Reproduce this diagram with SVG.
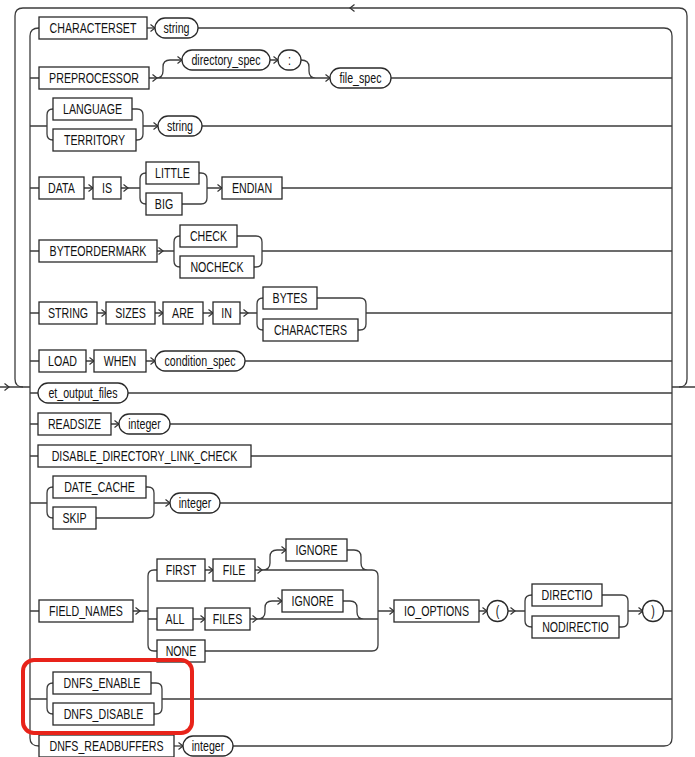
<svg xmlns="http://www.w3.org/2000/svg" xmlns:xlink="http://www.w3.org/1999/xlink" width="695" height="757" viewBox="0 0 695 757">
<style>
.b{fill:#fff;stroke:#2a2a2a;stroke-width:1.3}
.l{fill:none;stroke:#3c3c3c;stroke-width:1.3}
text{font-family:"Liberation Sans",Arial,sans-serif;font-size:14px;fill:#111;text-anchor:middle}
.hl{fill:none;stroke:#e8231a;stroke-width:4}
</style>
<defs>
<path id="ar" d="M-4.5,-3.5 L0,0 L-4.5,3.5" fill="none" stroke="#333" stroke-width="1.2"/>
</defs>
<rect width="695" height="757" fill="#fff"/>
<g id="connectors">
<path class="l" d="M679,387 Q687,387 687,379 V16 Q687,8 679,8 H23 Q15,8 15,16 V379 Q15,387 23,387"/>
<use href="#ar" transform="translate(350,8) rotate(180)"/>
<path class="l" d="M0,387 H30 M672,387 H695"/>
<use href="#ar" x="9" y="387"/>
<path class="l" d="M39,28 Q30,28 30,36 V738 Q30,746 39,746"/>
<path class="l" d="M198,28 H664 Q672,28 672,36 V738 Q672,746 664,746 H233"/>
<path class="l" d="M147,28 H155"/><use href="#ar" x="155" y="28"/>
<path class="l" d="M30,78 H39 M149,78 H330 M391,78 H672 M156,78 Q163,78 163,71 V67 Q163,60 170,60 H182 M270,60 H278 M301,60 Q309,60 309,67 V71 Q309,78 316,78"/>
<use href="#ar" x="157" y="78"/><use href="#ar" x="182" y="60"/><use href="#ar" x="278" y="60"/><use href="#ar" x="330" y="78"/>
<path class="l" d="M30,126 H47 M53,109 Q47,109 47,115 V134 Q47,140 53,140 M132,109 H137 Q143,109 143,115 V134 Q143,140 137,140 H136 M143,126 H158 M202,126 H672"/>
<use href="#ar" x="158" y="126"/>
<path class="l" d="M30,188 H39 M84,188 H93 M121,188 H140 M146,173 Q140,173 140,179 V198 Q140,204 146,204 M199,173 H201 Q207,173 207,179 V198 Q207,204 201,204 H182 M207,188 H222 M282,188 H672"/>
<use href="#ar" x="93" y="188"/><use href="#ar" x="128" y="188"/><use href="#ar" x="222" y="188"/>
<path class="l" d="M30,251 H39 M157,251 H174 M180,236 Q174,236 174,242 V261 Q174,267 180,267 M237,236 H256 Q262,236 262,242 V261 Q262,267 256,267 H254 M262,251 H672"/>
<use href="#ar" x="163" y="251"/>
<path class="l" d="M30,313 H39 M97,313 H106 M155,313 H163 M203,313 H213 M240,313 H257 M263,298 Q257,298 257,304 V324 Q257,330 263,330 M317,298 H360 Q366,298 366,304 V324 Q366,330 360,330 H358 M366,313 H672"/>
<use href="#ar" x="106" y="313"/><use href="#ar" x="163" y="313"/><use href="#ar" x="213" y="313"/><use href="#ar" x="248" y="313"/>
<path class="l" d="M30,361 H39 M86,361 H94 M146,361 H155 M245,361 H672"/>
<use href="#ar" x="94" y="361"/><use href="#ar" x="155" y="361"/>
<path class="l" d="M30,393 H38 M128,393 H672"/>
<path class="l" d="M30,424 H38 M111,424 H119 M170,424 H672"/>
<use href="#ar" x="119" y="424"/>
<path class="l" d="M30,456 H38 M251,456 H672"/>
<path class="l" d="M30,503 H47 M53,487 Q47,487 47,493 V512 Q47,518 53,518 M146,487 H148 Q154,487 154,493 V512 Q154,518 148,518 H96 M154,503 H170 M220,503 H672"/>
<use href="#ar" x="170" y="503"/>
<path class="l" d="M30,611 H39 M133,611 H148 M157,570 H154 Q148,570 148,576 V645 Q148,651 154,651 H157 M148,619 H157 M205,570 H213 M255,570 H372 Q378,570 378,576 V645 Q378,651 372,651 H205 M262,570 Q270,570 270,563 V557 Q270,550 277,550 H286 M347,550 H354 Q361,550 361,557 V563 Q361,570 368,570 M193,619 H205 M250,619 H378 M257,619 Q265,619 265,612 V608 Q265,601 272,601 H282 M343,601 H350 Q357,601 357,608 V612 Q357,619 364,619 M378,611 H394 M479,611 H487 M508,611 H525 M532,595 Q525,595 525,601 V621 Q525,627 532,627 M602,595 H622 Q628,595 628,601 V621 Q628,627 622,627 H619 M628,611 H643 M663,611 H672"/>
<use href="#ar" x="140" y="611"/><use href="#ar" x="213" y="570"/><use href="#ar" x="262" y="570"/><use href="#ar" x="286" y="550"/><use href="#ar" x="205" y="619"/><use href="#ar" x="257" y="619"/><use href="#ar" x="282" y="601"/><use href="#ar" x="394" y="611"/><use href="#ar" x="487" y="611"/><use href="#ar" x="515" y="611"/><use href="#ar" x="643" y="611"/>
<path class="l" d="M30,699 H47 M53,683 Q47,683 47,689 V708 Q47,714 53,714 M151,683 H156 Q162,683 162,689 V708 Q162,714 156,714 H154 M162,699 H672"/>
<path class="l" d="M174,746 H183"/><use href="#ar" x="183" y="746"/>
</g>
<g id="n-characterset"><rect class="b" x="39" y="17" width="108" height="22"/><text transform="translate(93,33) scale(.76,1)">CHARACTERSET</text></g>
<g id="n-string1"><rect class="b" x="155" y="18" width="43" height="20" rx="10"/><text transform="translate(176.5,33) scale(.76,1)">string</text></g>
<g id="n-preprocessor"><rect class="b" x="39" y="67" width="110" height="22"/><text transform="translate(94,83) scale(.76,1)">PREPROCESSOR</text></g>
<g id="n-directory_spec"><rect class="b" x="182" y="50" width="88" height="20" rx="10"/><text transform="translate(226,65) scale(.76,1)">directory_spec</text></g>
<g id="n-colon"><rect class="b" x="278" y="50" width="23" height="20" rx="10"/><text transform="translate(289.5,65) scale(.76,1)">:</text></g>
<g id="n-file_spec"><rect class="b" x="330" y="68" width="61" height="20" rx="10"/><text transform="translate(360.5,83) scale(.76,1)">file_spec</text></g>
<g id="n-language"><rect class="b" x="53" y="98" width="79" height="22"/><text transform="translate(92.5,114) scale(.76,1)">LANGUAGE</text></g>
<g id="n-territory"><rect class="b" x="53" y="129" width="83" height="22"/><text transform="translate(94.5,145) scale(.76,1)">TERRITORY</text></g>
<g id="n-string2"><rect class="b" x="158" y="116" width="44" height="20" rx="10"/><text transform="translate(180,131) scale(.76,1)">string</text></g>
<g id="n-data"><rect class="b" x="39" y="177" width="45" height="22"/><text transform="translate(61.5,193) scale(.76,1)">DATA</text></g>
<g id="n-is"><rect class="b" x="93" y="177" width="28" height="22"/><text transform="translate(107,193) scale(.76,1)">IS</text></g>
<g id="n-little"><rect class="b" x="146" y="162" width="53" height="22"/><text transform="translate(172.5,178) scale(.76,1)">LITTLE</text></g>
<g id="n-big"><rect class="b" x="146" y="193" width="36" height="22"/><text transform="translate(164,209) scale(.76,1)">BIG</text></g>
<g id="n-endian"><rect class="b" x="222" y="177" width="60" height="22"/><text transform="translate(252,193) scale(.76,1)">ENDIAN</text></g>
<g id="n-byteordermark"><rect class="b" x="39" y="240" width="118" height="22"/><text transform="translate(98,256) scale(.76,1)">BYTEORDERMARK</text></g>
<g id="n-check"><rect class="b" x="180" y="225" width="57" height="22"/><text transform="translate(208.5,241) scale(.76,1)">CHECK</text></g>
<g id="n-nocheck"><rect class="b" x="180" y="256" width="74" height="22"/><text transform="translate(217,272) scale(.76,1)">NOCHECK</text></g>
<g id="n-string3"><rect class="b" x="39" y="302" width="58" height="22"/><text transform="translate(68,318) scale(.76,1)">STRING</text></g>
<g id="n-sizes"><rect class="b" x="106" y="302" width="49" height="22"/><text transform="translate(130.5,318) scale(.76,1)">SIZES</text></g>
<g id="n-are"><rect class="b" x="163" y="302" width="40" height="22"/><text transform="translate(183,318) scale(.76,1)">ARE</text></g>
<g id="n-in"><rect class="b" x="213" y="302" width="27" height="22"/><text transform="translate(226.5,318) scale(.76,1)">IN</text></g>
<g id="n-bytes"><rect class="b" x="263" y="287" width="54" height="22"/><text transform="translate(290,303) scale(.76,1)">BYTES</text></g>
<g id="n-characters"><rect class="b" x="263" y="319" width="95" height="22"/><text transform="translate(310.5,335) scale(.76,1)">CHARACTERS</text></g>
<g id="n-load"><rect class="b" x="39" y="350" width="47" height="22"/><text transform="translate(62.5,366) scale(.76,1)">LOAD</text></g>
<g id="n-when"><rect class="b" x="94" y="350" width="52" height="22"/><text transform="translate(120,366) scale(.76,1)">WHEN</text></g>
<g id="n-condition_spec"><rect class="b" x="155" y="351" width="90" height="20" rx="10"/><text transform="translate(200,366) scale(.76,1)">condition_spec</text></g>
<g id="n-et_output_files"><rect class="b" x="38" y="383" width="90" height="20" rx="10"/><text transform="translate(83,398) scale(.76,1)">et_output_files</text></g>
<g id="n-readsize"><rect class="b" x="38" y="413" width="73" height="22"/><text transform="translate(74.5,429) scale(.76,1)">READSIZE</text></g>
<g id="n-integer1"><rect class="b" x="119" y="414" width="51" height="20" rx="10"/><text transform="translate(144.5,429) scale(.76,1)">integer</text></g>
<g id="n-disable_dir"><rect class="b" x="38" y="445" width="213" height="22"/><text transform="translate(144.5,461) scale(.76,1)">DISABLE_DIRECTORY_LINK_CHECK</text></g>
<g id="n-date_cache"><rect class="b" x="53" y="476" width="93" height="22"/><text transform="translate(99.5,492) scale(.76,1)">DATE_CACHE</text></g>
<g id="n-skip"><rect class="b" x="53" y="507" width="43" height="22"/><text transform="translate(74.5,523) scale(.76,1)">SKIP</text></g>
<g id="n-integer2"><rect class="b" x="170" y="493" width="50" height="20" rx="10"/><text transform="translate(195,508) scale(.76,1)">integer</text></g>
<g id="n-field_names"><rect class="b" x="39" y="600" width="94" height="22"/><text transform="translate(86,616) scale(.76,1)">FIELD_NAMES</text></g>
<g id="n-first"><rect class="b" x="157" y="559" width="48" height="22"/><text transform="translate(181,575) scale(.76,1)">FIRST</text></g>
<g id="n-file"><rect class="b" x="213" y="559" width="42" height="22"/><text transform="translate(234,575) scale(.76,1)">FILE</text></g>
<g id="n-ignore1"><rect class="b" x="286" y="539" width="61" height="22"/><text transform="translate(316.5,555) scale(.76,1)">IGNORE</text></g>
<g id="n-all"><rect class="b" x="157" y="608" width="36" height="22"/><text transform="translate(175,624) scale(.76,1)">ALL</text></g>
<g id="n-files"><rect class="b" x="205" y="608" width="45" height="22"/><text transform="translate(227.5,624) scale(.76,1)">FILES</text></g>
<g id="n-ignore2"><rect class="b" x="282" y="590" width="61" height="22"/><text transform="translate(312.5,606) scale(.76,1)">IGNORE</text></g>
<g id="n-none"><rect class="b" x="157" y="640" width="48" height="22"/><text transform="translate(181,656) scale(.76,1)">NONE</text></g>
<g id="n-io_options"><rect class="b" x="394" y="600" width="85" height="22"/><text transform="translate(436.5,616) scale(.76,1)">IO_OPTIONS</text></g>
<g id="n-lparen"><circle class="b" cx="497.5" cy="611" r="10.5"/><text transform="translate(497.5,616) scale(.76,1)">(</text></g>
<g id="n-directio"><rect class="b" x="532" y="584" width="70" height="22"/><text transform="translate(567,600) scale(.76,1)">DIRECTIO</text></g>
<g id="n-nodirectio"><rect class="b" x="532" y="616" width="87" height="22"/><text transform="translate(575.5,632) scale(.76,1)">NODIRECTIO</text></g>
<g id="n-rparen"><circle class="b" cx="653" cy="611" r="10.5"/><text transform="translate(653,616) scale(.76,1)">)</text></g>
<g id="n-dnfs_enable"><rect class="b" x="53" y="672" width="98" height="22"/><text transform="translate(102,688) scale(.76,1)">DNFS_ENABLE</text></g>
<g id="n-dnfs_disable"><rect class="b" x="53" y="703" width="101" height="22"/><text transform="translate(103.5,719) scale(.76,1)">DNFS_DISABLE</text></g>
<g id="n-dnfs_readbuffers"><rect class="b" x="39" y="735" width="135" height="22"/><text transform="translate(106.5,751) scale(.76,1)">DNFS_READBUFFERS</text></g>
<g id="n-integer3"><rect class="b" x="183" y="736" width="50" height="20" rx="10"/><text transform="translate(208,751) scale(.76,1)">integer</text></g>
<g id="highlight"><rect class="hl" x="23" y="660" width="169" height="73" rx="11"/></g>
</svg>
